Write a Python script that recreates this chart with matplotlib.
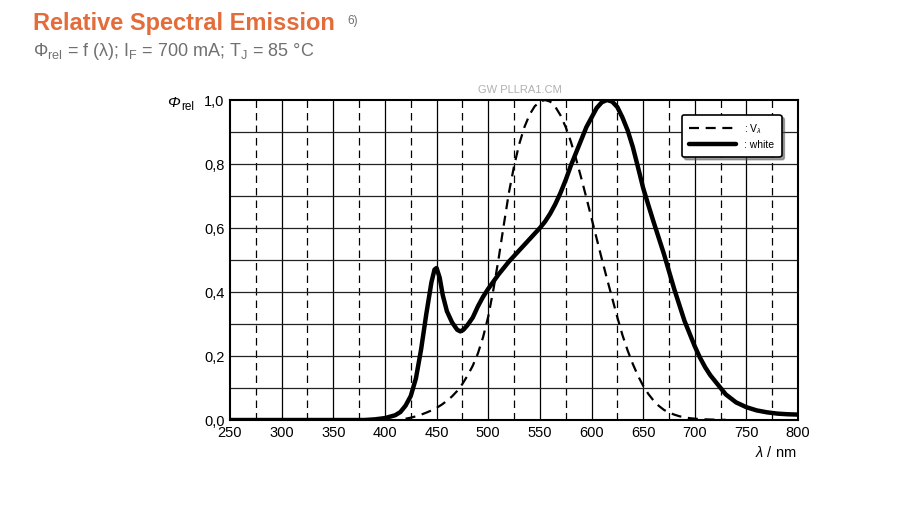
import matplotlib.pyplot as plt
import numpy as np

plt.rcParams['font.family'] = ['Liberation Sans', 'DejaVu Sans']
plt.rcParams['mathtext.fontset'] = 'custom'
plt.rcParams['mathtext.rm'] = 'Liberation Sans'
plt.rcParams['mathtext.it'] = 'Liberation Sans:italic'

# white LED spectrum
white_nm = [250, 300, 350, 380, 390, 400, 410, 415, 420, 425, 430, 435, 440, 445,
            448, 450, 453, 456, 460, 465, 470, 473, 476, 480, 485, 490, 495, 500,
            510, 520, 530, 540, 550, 555, 560, 565, 570, 575, 580, 585, 590, 595,
            600, 605, 610, 615, 620, 625, 630, 635, 640, 645, 650, 655, 660, 665,
            670, 675, 680, 690, 700, 705, 710, 715, 720, 725, 730, 740, 750, 760,
            770, 780, 790, 800]
white_val = [0.0, 0.0, 0.0, 0.0, 0.002, 0.006, 0.015, 0.025, 0.045, 0.075, 0.13,
             0.22, 0.33, 0.43, 0.47, 0.475, 0.445, 0.39, 0.34, 0.305, 0.282,
             0.277, 0.282, 0.297, 0.32, 0.355, 0.385, 0.41, 0.455, 0.495, 0.53,
             0.565, 0.60, 0.62, 0.645, 0.675, 0.71, 0.75, 0.795, 0.835, 0.875,
             0.915, 0.945, 0.975, 0.993, 1.0, 0.995, 0.978, 0.945, 0.905, 0.853,
             0.79, 0.725, 0.672, 0.62, 0.57, 0.52, 0.465, 0.41, 0.31, 0.23, 0.195,
             0.165, 0.14, 0.12, 0.1, 0.08, 0.055, 0.04, 0.03, 0.024, 0.02, 0.018,
             0.017]

# eye sensitivity curve V(lambda)
v_nm = list(range(420, 701, 5)) + [710, 720, 730]
v_val = [0.004, 0.0073, 0.0116, 0.0168, 0.023, 0.0298, 0.038, 0.048, 0.06,
         0.0739, 0.091, 0.1126, 0.139, 0.1693, 0.208, 0.2586, 0.323, 0.4073,
         0.503, 0.6082, 0.71, 0.7932, 0.862, 0.9149, 0.954, 0.9803, 0.995, 1.0,
         0.995, 0.9786, 0.952, 0.9154, 0.87, 0.8163, 0.757, 0.6949, 0.631,
         0.5668, 0.503, 0.4412, 0.381, 0.321, 0.265, 0.217, 0.175, 0.1382,
         0.107, 0.0816, 0.061, 0.0446, 0.032, 0.0232, 0.017, 0.0119, 0.0082,
         0.00586, 0.0041, 0.0021, 0.00105, 0.00052]

x_ticks = list(range(250, 801, 50))
y_ticks = [0.0, 0.2, 0.4, 0.6, 0.8, 1.0]
y_labels = ['0,0', '0,2', '0,4', '0,6', '0,8', '1,0']

fig = plt.figure(figsize=(9.09, 5.28), dpi=100)
ax = fig.add_axes([0.253, 0.2045, 0.625, 0.6061])

# grid
for x in range(300, 800, 50):
    ax.axvline(x, color='black', lw=0.9, zorder=1)
for x in range(275, 800, 50):
    ax.axvline(x, color='black', lw=0.9, ls=(0, (6, 4)), zorder=1)
for y in np.arange(0.1, 1.0, 0.1):
    ax.axhline(y, color='#222222', lw=0.9, zorder=1)

vl, = ax.plot(v_nm, v_val, color='black', lw=1.6, ls=(0, (4.5, 3)), zorder=3)
wl, = ax.plot(white_nm, white_val, color='black', lw=3.2, zorder=4,
              solid_capstyle='round', solid_joinstyle='round')

ax.set_xlim(250, 800)
ax.set_ylim(0, 1.0)
ax.set_xticks(x_ticks)
ax.set_yticks(y_ticks)
ax.set_yticklabels(y_labels)
ax.tick_params(length=0, labelsize=10.5, pad=4)
for s in ax.spines.values():
    s.set_linewidth(1.5)

leg = ax.legend([vl, wl], [r': V$_\lambda$', ': white'], loc='upper right',
                bbox_to_anchor=(0.98, 0.97), fontsize=7.5, shadow=True,
                fancybox=True, framealpha=1, edgecolor='black',
                handlelength=4.5, borderpad=0.7, labelspacing=0.35)
leg.get_frame().set_linewidth(1.2)

fig.text(0.184, 0.798, 'Φ', fontsize=11, fontstyle='italic')
fig.text(0.199, 0.792, 'rel', fontsize=8.5)
fig.text(0.876, 0.135, r'$\mathit{\lambda}$ / nm', fontsize=10.5, ha='right')
fig.text(0.572, 0.823, 'GW PLLRA1.CM', fontsize=8, color='#b0b0b0', ha='center')

fig.text(0.036, 0.944, 'Relative Spectral Emission', fontsize=17,
         fontweight='bold', color='#e46c3a', va='baseline')
fig.text(0.382, 0.955, '6)', fontsize=8.5, color='#707070', va='baseline')
fig.text(0.036, 0.893, r'$\Phi_{\rm rel}$ = f (λ); I$_{\rm F}$ = 700 mA; '
         r'T$_{\rm J}$ = 85 °C', fontsize=13, color='#707070', va='baseline')

fig.savefig('out.png', dpi=100)
